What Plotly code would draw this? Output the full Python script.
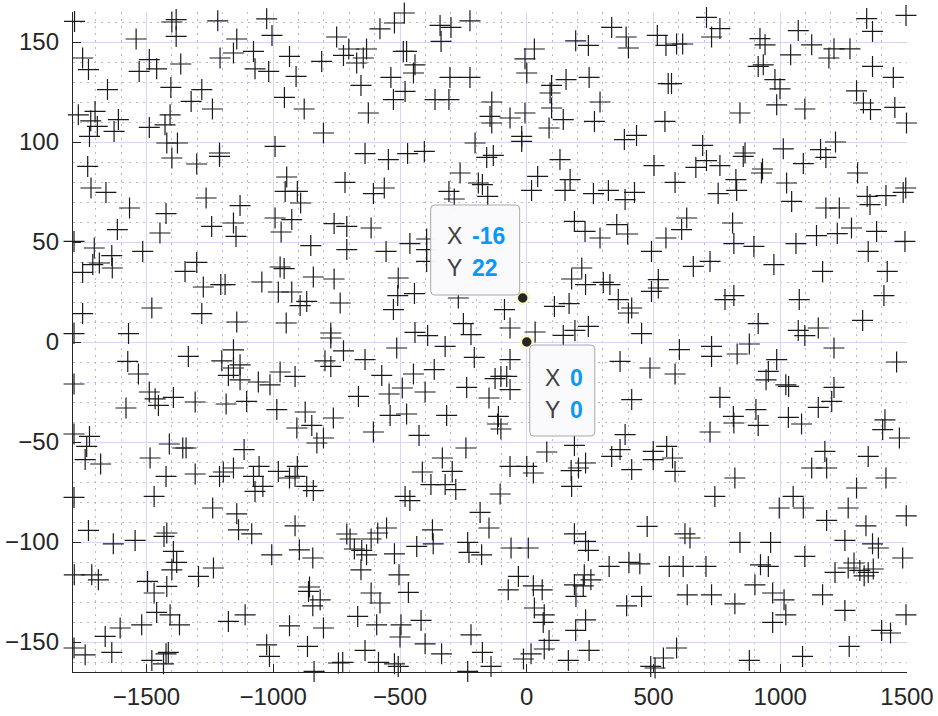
import plotly.graph_objects as go

# ---- data: (x, y) points of the '+' scatter, grouped by region of the plot ----
top_left = [(-1784,160.3),(-1400,160),(-1383,161.2),(-1383,152.8),(-1219,160.6),(-1026,161.6),(-1005,153.3),(-1541,151.5),(-1144,151.5),(-750,152.5),(-1157,144.5),(-1078,145.3),(-1210,142),(-936,142.8),(-809,140.3),(-702,146.5),(-723,143.3),(-1752,142),(-1729,136.2),(-1489,141.2),(-1460,136.6),(-1529,135.3),(-1365,139),(-1072,136.6),(-1018,135.3),(-910,132.8),(-1654,126.2),(-1404,127.3),(-1282,126.2),(-1324,120.3),(-956,122.3),(-1240,116.5),(-878,116.5),(-1769,113.6),(-1703,115.3),(-1720,110.6),(-1694,107.8),(-1725,102.8),(-1611,111.2),(-1628,105.3),(-1407,113.6),(-1427,108.6),(-1489,107.3),(-802,104.5),(-993,97.8),(-1420,99.5),(-1378,99.5),(-1400,92),(-1212,94.5),(-1212,92.8),(-1302,89),(-1732,87.8)]
top_mid = [(-483,164.5),(-522,159.5),(-579,156.6),(-342,158.3),(-299,157.3),(-224,160.6),(-338,150.3),(335,157.3),(392,152.5),(401,147),(193,150.6),(243,148.3),(30,146.5),(-7,141.6),(0,134.5),(-487,145.3),(-474,145.3),(-632,146.5),(-645,142),(-671,139.5),(-441,138.6),(-447,134.5),(-536,132.3),(-303,132.3),(-224,132.3),(-654,128.3),(98,128.3),(155,131.2),(246,132.3),(-480,125.3),(-526,121.2),(-362,121.2),(-307,121.2),(92,124.5),(-138,120),(98,117),(289,120),(-625,114.5),(-145,112.8),(-66,112),(-7,114.5),(-138,109.5),(144,111.2),(267,110.3),(88,107),(-20,102.8),(-20,100.3),(-204,99.5),(385,101.2),(-638,94.2),(-546,91.2),(-470,94.2),(-404,95.3),(-158,92.3),(-132,93.3),(131,91.2),(-263,84.5)]
top_right = [(709,162.3),(1496,163.3),(1341,161.7),(1364,155.3),(762,156.7),(729,152.5),(515,153.3),(549,148.3),(591,149),(615,149),(1071,155.7),(920,151.7),(940,148.6),(1124,148.6),(1041,143.6),(1212,146.6),(1275,146.6),(1192,142),(1364,137.8),(1446,132.3),(913,137.8),(933,138.6),(558,129.2),(571,129.2),(979,131.2),(999,126.6),(1301,125.6),(1328,119.5),(1356,116.2),(986,118.6),(1097,116.5),(1452,117.3),(841,114.5),(1498,109.5),(545,110.3),(433,103.3),(694,98.3),(861,94.5),(854,92.8),(1012,96.6),(1159,96.2),(1180,92.3),(1218,100),(502,88.2),(709,90.7),(667,87.3),(762,88.2),(1091,89.2),(930,86.5),(926,84.5),(1305,84.5)]
upper_left = [(-1719,77),(-1660,74.8),(-1567,67),(-1423,64.2),(-1615,56.2),(-1447,54.5),(-1265,72),(-1131,68.2),(-1243,57.8),(-1157,59.5),(-1147,52.8),(-947,82.5),(-953,75.3),(-905,75.3),(-892,69.5),(-717,79.8),(-993,62),(-927,61.2),(-969,55),(-760,59.2),(-710,57.8),(-1786,50.3),(-1706,47),(-1637,43.2),(-1712,38.7),(-1686,39.5),(-1635,37),(-1752,34.8),(-1515,45.3),(-1302,39.8),(-1348,35.3),(-1276,27.5),(-1207,28.7),(-1190,28.7),(-1045,30),(-973,37.5),(-957,36.7),(-852,48.2),(-710,46.2),(-842,32.5),(-760,31.5),(-980,25),(-927,25),(-868,20.3),(-894,18.2),(-736,19.5),(-1479,17),(-1282,14.2),(-1752,14.2),(-1144,10),(-949,9.5),(-1786,4.2),(-1571,4.2),(-773,4.5),(-773,2)]
upper_mid = [(-191,79.5),(-175,78.7),(-605,74.2),(-562,77),(-307,75.3),(-286,71.5),(-154,72.8),(43,82.8),(19,75.8),(171,81.2),(151,75.8),(263,74.2),(322,75.8),(388,71.2),(425,74.8),(-614,57),(-555,45.3),(-461,49.2),(-395,51.5),(-395,46.2),(-395,40.3),(188,60.3),(230,55.3),(289,52),(355,58.7),(398,54),(-507,32),(-509,23.2),(-443,24.2),(-526,16.2),(-270,22),(-88,16.2),(217,37),(177,31.5),(232,28.7),(302,29.8),(328,28.7),(361,21.2),(109,17.8),(167,19.2),(414,17),(401,14.5),(-441,4.8),(-391,3.2),(-250,9.2),(-220,3.7),(-66,7),(33,5),(144,3.3),(190,5.8),(243,7.8)]
upper_right = [(585,79.8),(755,74.2),(825,81.2),(828,75.8),(1025,79.5),(1045,70.3),(1180,67),(1233,67),(1343,72.8),(1354,68.7),(1417,73.2),(1485,74.8),(1495,77),(631,62),(611,56.2),(549,52),(812,59.5),(1143,53.2),(1225,54.2),(1281,57),(1380,55.3),(817,49.2),(896,47.8),(1062,49.2),(1492,50.3),(492,45.3),(1347,45.3),(657,37.8),(723,40.3),(975,38.7),(1167,35.3),(1422,35.3),(519,31.2),(492,25.3),(519,27),(782,21.2),(817,23.2),(1075,21.2),(1409,23.2),(913,9.2),(1325,10.8),(1071,5.8),(1097,3.2),(1150,7),(453,4.2)]
lower_left = [(-1574,-9.7),(-1532,-16),(-1335,-7.2),(-1157,-3.9),(-1203,-9.4),(-1131,-11.4),(-1157,-13),(-1177,-16.7),(-1131,-18.9),(-1059,-20),(-1013,-21.4),(-973,-15),(-914,-17.2),(-723,-4.4),(-796,-9.4),(-773,-12.2),(-1786,-21),(-1489,-25),(-1466,-28.4),(-1453,-31.7),(-1394,-27.7),(-1308,-30),(-1186,-31),(-1105,-29.7),(-1581,-33),(-986,-33.8),(-874,-35),(-763,-38),(-907,-43),(-848,-41.7),(-1786,-46),(-1725,-47.2),(-1736,-52.2),(-828,-50.5),(-802,-48),(-1410,-51),(-1357,-53),(-1344,-53),(-1115,-53.8),(-1742,-58.8),(-1681,-61),(-1486,-58),(-1423,-67.2),(-1308,-66),(-1212,-67.2),(-1197,-65),(-1157,-63),(-1056,-62.2),(-1078,-67.2),(-1041,-72.2),(-1072,-74.7),(-980,-64.7),(-936,-68),(-914,-67.2),(-905,-62.2),(-868,-72.2),(-842,-74.3),(-1786,-77.7),(-1470,-77.2)]
lower_mid = [(-513,-3),(-322,-2.2),(-638,-8.8),(-572,-16.7),(-447,-16),(-365,-13.8),(-207,-7.7),(-66,-8.8),(-125,-18.3),(-102,-17.2),(-79,-17.2),(-66,-23.8),(-237,-22.7),(-149,-28),(-664,-27.2),(-543,-26),(-491,-23),(-401,-25),(-539,-36.7),(-474,-36),(-316,-36.7),(-112,-37.2),(-115,-41),(-102,-43.5),(-605,-45),(-425,-46.7),(-240,-53),(-333,-58),(-412,-65),(-294,-64.7),(-378,-71.3),(-322,-71.3),(-280,-73.8),(-480,-77.2),(-461,-79.3),(-105,-76),(-66,-62.2),(0,-62.2),(26,-65.5),(79,-55),(188,-51.7),(175,-64.3),(204,-63),(232,-60.5),(177,-72.2),(335,-57.2),(368,-53.8),(388,-46.3),(414,-63.8),(368,-9.7),(414,-28.8)]
lower_right = [(602,-3.8),(729,-2.2),(729,-7.2),(830,-6),(878,-1),(986,-8.8),(953,-14.7),(944,-18.9),(1022,-21.4),(1033,-22.2),(1212,-3),(1212,-22.7),(1459,-10),(486,-13),(585,-16),(762,-27.7),(1150,-32.7),(1203,-29.7),(815,-37.2),(817,-40.5),(904,-33.8),(913,-41.7),(1032,-37.7),(1084,-41),(1413,-38.9),(1404,-43.8),(1470,-48),(723,-45),(552,-52.2),(499,-54.7),(499,-58.8),(575,-58),(585,-64.7),(1176,-54.7),(1124,-63),(1183,-63),(1347,-57.2),(1417,-68),(821,-68),(1301,-73),(742,-77.2),(1051,-77.2)]
bottom_left = [(-1239,-83),(-1144,-85.9),(-1137,-93.9),(-1085,-95.9),(-914,-91.9),(-1729,-94.2),(-1631,-100.9),(-1545,-99.2),(-1431,-97.2),(-1420,-95.5),(-1394,-104.7),(-1381,-110.2),(-1400,-113.9),(-1295,-117.2),(-1236,-113),(-1785,-116.4),(-1716,-116.4),(-1690,-118.9),(-1496,-119.7),(-1470,-125.5),(-1420,-122.2),(-1006,-106.4),(-897,-103.9),(-844,-108),(-710,-96),(-697,-98.5),(-857,-122.5),(-861,-124.7),(-815,-128.9),(-844,-131.9),(-1460,-135.2),(-1407,-136.4),(-1370,-141.4),(-1177,-139.7),(-1111,-136.4),(-936,-141.9),(-802,-143),(-1604,-143),(-1519,-141.4),(-1663,-147.2),(-1786,-153),(-1742,-156.4),(-1637,-155.2),(-1479,-159.2),(-1433,-160.9),(-1414,-155.2),(-1423,-155.9),(-1026,-151.4),(-1015,-157.2),(-865,-152.2),(-839,-164.7),(-743,-160.5),(-726,-160.2)]
bottom_mid = [(-184,-85.2),(-149,-93),(-372,-93.9),(-553,-93),(-588,-95.5),(-614,-98.5),(-680,-103.5),(-651,-104.2),(-632,-106.4),(-522,-105.9),(-434,-102.2),(-369,-100.9),(-233,-100.2),(-228,-105.2),(-178,-106.4),(-62,-103),(6,-103),(-654,-113.9),(-504,-116.4),(-614,-125.5),(-579,-130.5),(-467,-125.2),(-667,-137.2),(-592,-141.4),(-496,-141.4),(-417,-139.2),(-500,-147.5),(-401,-150.9),(-638,-154.2),(-585,-160.2),(-522,-160.9),(-507,-162.2),(-336,-155.9),(-220,-146.4),(-175,-155.2),(-141,-162.2),(-233,-164.7),(-33,-117.2),(-73,-123.9),(26,-121.9),(61,-123.9),(30,-133),(69,-136.4),(65,-140.2),(88,-149.2),(69,-153.5),(-13,-158.5),(17,-155.9),(188,-95.9),(232,-99.7),(243,-104.2),(227,-116.4),(253,-118.9),(188,-121.4),(223,-121.9),(194,-127.2),(232,-138.9),(193,-144.2),(246,-154.2),(164,-159.2),(325,-112.2),(403,-110.2),(394,-131.9)]
bottom_right = [(996,-83),(1091,-83),(1268,-83),(1183,-89.2),(1338,-91.9),(1497,-86.9),(475,-92.2),(624,-95.9),(644,-98),(841,-100.2),(962,-100.2),(1255,-99.2),(1364,-100.9),(1387,-103),(1097,-107.2),(1483,-108),(446,-110.9),(562,-112.2),(617,-112.2),(707,-112.2),(922,-111.4),(953,-112.2),(1216,-115.2),(1268,-113),(1291,-110.5),(1314,-114.2),(1331,-116.9),(1347,-115.2),(1367,-113.5),(900,-121.4),(970,-125.5),(1015,-128.9),(1022,-136.4),(970,-140.2),(1167,-126.4),(1255,-134.2),(453,-127.2),(633,-126.4),(729,-126.4),(821,-130.9),(1496,-136.4),(1400,-144.2),(1435,-145.5),(1272,-152.2),(591,-153),(539,-158),(489,-162.2),(506,-163),(878,-159.2),(1088,-157.2)]

# data tips
tip_x = [-16, 0]
tip_y = [22, 0]

x_ticks = [-1500, -1000, -500, 0, 500, 1000, 1500]
y_ticks = [-150, -100, -50, 0, 50, 100, 150]
x_range = [-1790, 1500]
y_range = [-165, 165]

regions = [top_left, top_mid, top_right, upper_left, upper_mid, upper_right,
           lower_left, lower_mid, lower_right, bottom_left, bottom_mid, bottom_right]
xs = [p[0] for r in regions for p in r]
ys = [p[1] for r in regions for p in r]

FONT = "Liberation Sans, Arial, Helvetica, sans-serif"
AXC = "#262626"
MAJOR = "#d6d6f6"
MINOR = "#b4b4ee"

fig = go.Figure()
fig.add_trace(go.Scatter(
    x=xs, y=ys, mode="markers", cliponaxis=False, hoverinfo="skip",
    marker=dict(symbol="cross-thin", size=15, color="#1a1a1a",
                line=dict(color="#1a1a1a", width=1.2)),
))
fig.add_trace(go.Scatter(
    x=tip_x, y=tip_y, mode="markers", cliponaxis=False, hoverinfo="skip",
    marker=dict(symbol="circle", size=12, color="#262626",
                line=dict(color="#fbf5c8", width=2.5)),
))


def rrect(x0, y0, x1, y1, r=4):
    return (f"M {x0+r},{y0} L {x1-r},{y0} Q {x1},{y0} {x1},{y0+r} "
            f"L {x1},{y1-r} Q {x1},{y1} {x1-r},{y1} L {x0+r},{y1} "
            f"Q {x0},{y1} {x0},{y1-r} L {x0},{y0+r} Q {x0},{y0} {x0+r},{y0} Z")


# tip boxes: (anchor index, pixel box x0,x1,y0,y1 relative to anchor (y up))
boxes = [(0, -92, -3, 3, 93), (1, 3, 68, -94, -3)]
for i, bx0, bx1, by0, by1 in boxes:
    fig.add_shape(type="path", xref="x", yref="y",
                  xsizemode="pixel", ysizemode="pixel",
                  xanchor=tip_x[i], yanchor=tip_y[i],
                  path=rrect(bx0, by0, bx1, by1),
                  fillcolor="rgba(250,250,253,0.97)",
                  line=dict(color="#a8a8a8", width=1), layer="above")

# tip texts: (anchor index, label x shift, value x shift, line1 y shift, line2 y shift)
texts = [(0, -78, -53, 62, 30), (1, 16, 41, -36, -68)]
for i, lx, vx, y1, y2 in texts:
    for lab, val, ysh in (("X", tip_x[i], y1), ("Y", tip_y[i], y2)):
        fig.add_annotation(x=tip_x[i], y=tip_y[i], xref="x", yref="y",
                           text=lab, showarrow=False, xanchor="left", yanchor="middle",
                           xshift=lx, yshift=ysh,
                           font=dict(family=FONT, size=23, color="#404040"))
        fig.add_annotation(x=tip_x[i], y=tip_y[i], xref="x", yref="y",
                           text=f"<b>{val}</b>", showarrow=False, xanchor="left", yanchor="middle",
                           xshift=vx, yshift=ysh,
                           font=dict(family=FONT, size=23, color="#0a98f6"))

axis_common = dict(
    showgrid=True, gridcolor=MAJOR, gridwidth=1, zeroline=False,
    showline=True, linecolor=AXC, linewidth=1.3, ticks="inside", ticklen=8,
    tickcolor=AXC, tickwidth=1.3, mirror=False,
    tickfont=dict(family=FONT, size=24, color=AXC),
)
fig.update_xaxes(range=x_range, tickvals=x_ticks, ticklabelstandoff=3,
                 minor=dict(dtick=100, tick0=0, showgrid=True, gridcolor=MINOR,
                            griddash="2px,5px", gridwidth=1, ticks=""),
                 **axis_common)
fig.update_yaxes(range=y_range, tickvals=y_ticks, ticklabelstandoff=8,
                 minor=dict(dtick=10, tick0=0, showgrid=True, gridcolor=MINOR,
                            griddash="2px,5px", gridwidth=1, ticks=""),
                 **axis_common)

fig.update_layout(
    width=938, height=716, showlegend=False,
    margin=dict(l=73, r=31, t=12, b=44, autoexpand=False),
    plot_bgcolor="white", paper_bgcolor="white",
    font=dict(family=FONT, color=AXC),
)

fig.write_html("out.html")
